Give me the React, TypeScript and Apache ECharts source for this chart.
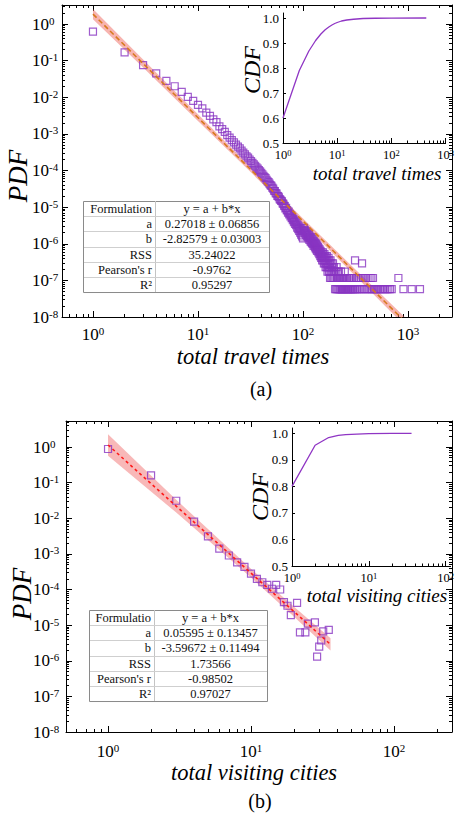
import React, { useEffect, useRef } from 'react';
import * as echarts from 'echarts';

const FONT = '"Liberation Serif", "Times New Roman", serif';

// ---------- Panel (a): total travel times ----------
// PDF at x = 1..100
const travelHeadPdf = [
  0.62, 0.168, 0.076, 0.045, 0.028, 0.020, 0.014, 0.0103, 0.0080, 0.0062,
  0.0050, 0.0038, 0.0031, 0.0025, 0.0021, 0.0016, 0.00135, 0.00114, 0.00093, 0.00079,
  6.8e-4, 5.9e-4, 5.1e-4, 4.5e-4, 4.0e-4, 3.5e-4, 3.1e-4, 2.75e-4, 2.45e-4, 2.24e-4,
  2.0e-4, 1.82e-4, 1.62e-4, 1.48e-4, 1.35e-4, 1.23e-4, 1.12e-4, 1.02e-4, 9.5e-5, 8.7e-5,
  7.9e-5, 7.2e-5, 6.6e-5, 6.2e-5, 5.6e-5, 5.1e-5, 4.8e-5, 4.4e-5, 4.0e-5, 3.8e-5,
  3.4e-5, 3.2e-5, 2.8e-5, 2.75e-5, 2.4e-5, 2.35e-5, 2.04e-5, 2.0e-5, 1.86e-5, 1.66e-5,
  1.58e-5, 1.48e-5, 1.45e-5, 1.26e-5, 1.23e-5, 1.10e-5, 1.07e-5, 9.3e-6, 9.5e-6, 8.3e-6,
  8.1e-6, 7.1e-6, 7.6e-6, 6.3e-6, 6.6e-6, 5.6e-6, 6.0e-6, 5.0e-6, 5.2e-6, 4.4e-6,
  4.8e-6, 3.9e-6, 4.3e-6, 3.5e-6, 4.0e-6, 3.2e-6, 3.6e-6, 2.75e-6, 3.3e-6, 2.5e-6,
  3.0e-6, 2.24e-6, 2.7e-6, 2.0e-6, 2.6e-6, 1.78e-6, 2.4e-6, 1.58e-6, 2.2e-6, 1.41e-6,
];
// [x, PDF] for x > 100
const travelTail: [number, number][] = [
  [101, 2.3e-6], [102, 2.7e-6], [103, 2.0e-6], [104, 2.4e-6], [105, 1.91e-6], [106, 2.2e-6],
  [107, 1.74e-6], [108, 2.1e-6], [109, 1.62e-6], [110, 1.91e-6], [111, 1.51e-6], [112, 1.74e-6],
  [113, 1.39e-6], [114, 1.8e-6], [115, 1.28e-6], [116, 1.57e-6], [117, 1.45e-6], [118, 1.16e-6],
  [119, 1.51e-6], [120, 1.1e-6], [121, 1.33e-6], [122, 1.04e-6], [123, 1.39e-6], [124, 9.9e-7],
  [125, 1.22e-6], [126, 8.7e-7], [127, 1.16e-6], [128, 9.3e-7], [129, 1.1e-6], [130, 8.1e-7],
  [131, 1.04e-6], [132, 7.5e-7], [133, 9.9e-7], [134, 7.0e-7], [135, 9.3e-7], [136, 6.4e-7],
  [137, 8.7e-7], [138, 7.0e-7], [139, 8.1e-7], [140, 5.8e-7], [141, 7.5e-7], [142, 6.4e-7],
  [143, 5.2e-7], [144, 7.0e-7], [145, 5.8e-7], [146, 4.6e-7], [147, 6.4e-7], [148, 5.2e-7],
  [149, 4.1e-7], [150, 5.8e-7], [151, 4.6e-7], [152, 3.5e-7], [153, 5.2e-7], [154, 4.1e-7],
  [155, 5.8e-7], [156, 3.5e-7], [157, 4.6e-7], [158, 2.9e-7], [159, 4.1e-7], [160, 5.2e-7],
  [161, 2.9e-7], [162, 3.5e-7], [163, 4.6e-7], [164, 2.3e-7], [165, 4.1e-7], [166, 2.9e-7],
  [167, 3.5e-7], [168, 2.3e-7], [169, 4.6e-7], [170, 2.9e-7], [171, 1.74e-7], [172, 3.5e-7],
  [173, 2.3e-7], [174, 2.9e-7], [175, 4.1e-7], [176, 1.74e-7], [177, 2.3e-7], [178, 3.5e-7],
  [179, 1.74e-7], [180, 2.9e-7], [181, 1.16e-7], [182, 2.3e-7], [183, 3.5e-7], [184, 1.74e-7],
  [186, 1.16e-7], [187, 2.9e-7], [188, 1.74e-7], [189, 2.3e-7], [191, 1.16e-7], [192, 1.74e-7],
  [193, 2.9e-7], [195, 1.16e-7], [196, 1.74e-7], [197, 2.3e-7], [199, 1.16e-7], [200, 1.74e-7],
  [202, 5.8e-8], [204, 1.16e-7], [205, 1.74e-7], [207, 5.8e-8], [209, 2.3e-7], [210, 1.16e-7],
  [212, 5.8e-8], [214, 1.74e-7], [215, 1.16e-7], [217, 5.8e-8], [219, 1.16e-7], [220, 1.74e-7],
  [222, 5.8e-8], [224, 1.16e-7], [226, 5.8e-8], [228, 1.16e-7], [230, 1.74e-7], [231, 5.8e-8],
  [234, 1.16e-7], [236, 5.8e-8], [238, 5.8e-8], [240, 1.16e-7], [242, 5.8e-8], [245, 1.16e-7],
  [247, 5.8e-8], [250, 1.74e-7], [252, 5.8e-8], [255, 1.16e-7], [257, 5.8e-8], [260, 1.16e-7],
  [263, 5.8e-8], [266, 1.16e-7], [268, 5.8e-8], [272, 5.8e-8], [275, 1.16e-7], [278, 5.8e-8],
  [282, 1.16e-7], [285, 5.8e-8], [289, 5.8e-8], [292, 1.16e-7], [296, 5.8e-8], [300, 5.8e-8],
  [305, 1.16e-7], [310, 5.8e-8], [313, 3.5e-7], [315, 5.8e-8], [320, 1.16e-7], [326, 5.8e-8],
  [332, 1.16e-7], [338, 5.8e-8], [345, 1.16e-7], [352, 5.8e-8], [360, 1.16e-7], [365, 2.9e-7],
  [368, 5.8e-8], [376, 1.16e-7], [385, 5.8e-8], [394, 1.16e-7], [403, 5.8e-8], [412, 1.16e-7],
  [420, 5.8e-8], [430, 1.16e-7], [440, 5.8e-8], [448, 1.16e-7], [455, 5.8e-8], [464, 1.16e-7],
  [475, 5.8e-8], [490, 5.8e-8], [505, 5.8e-8], [520, 5.8e-8], [540, 5.8e-8], [560, 5.8e-8],
  [580, 5.8e-8], [600, 5.8e-8], [625, 5.8e-8], [650, 5.8e-8], [675, 5.8e-8], [700, 5.8e-8],
  [810, 1.16e-7], [905, 5.8e-8], [1085, 5.8e-8], [1300, 5.8e-8],
];
const travelCdf: [number, number][] = [
  [1, 0.6], [2, 0.79], [3, 0.868], [4, 0.91], [5, 0.936], [6, 0.953], [7, 0.964], [8, 0.972],
  [9, 0.978], [10, 0.982], [12, 0.988], [15, 0.992], [20, 0.995], [30, 0.998], [50, 0.999],
  [100, 0.9997], [440, 1.0],
];
const travelFit = { a: 0.27018, b: -2.82579, xStart: 1, xEnd: 1000 };
// [x, half width of the shaded band in decades]
const travelBand: [number, number][] = [[1, 0.14], [3, 0.11], [10, 0.09], [30, 0.07], [100, 0.07], [300, 0.09], [1000, 0.12]];
const travelTable: [string, string][] = [
  ['Formulation', 'y = a + b*x'],
  ['a', '0.27018 ± 0.06856'],
  ['b', '-2.82579 ± 0.03003'],
  ['RSS', '35.24022'],
  ["Pearson's r", '-0.9762'],
  ['R²', '0.95297'],
];

// ---------- Panel (b): total visiting cities ----------
const citiesPdf: [number, number][] = [
  [1, 0.88], [2, 0.16], [3, 0.031], [4, 0.008], [5, 0.0031], [6, 0.0014], [7, 0.0009],
  [8, 0.00058], [9, 0.00043], [10, 0.00028], [11, 0.0002], [12, 0.00016], [13, 0.000135],
  [14, 0.000105], [15, 0.000135], [16, 0.0001], [17, 4.4e-5], [18, 3.5e-5], [19, 1.9e-5],
  [21, 4.2e-5], [22, 6.3e-6], [24, 6.3e-6], [25, 1.1e-5], [28, 1.2e-5], [29, 1.3e-6],
  [30, 2.5e-6], [31, 3.7e-6], [32, 6.7e-6], [35, 7.4e-6],
];
const citiesCdf: [number, number][] = [
  [1, 0.8], [2, 0.955], [3, 0.984], [4, 0.992], [5, 0.995], [7, 0.997], [10, 0.999], [20, 0.9995], [36, 1.0],
];
const citiesFit = { a: 0.05595, b: -3.59672, xStart: 1, xEnd: 36 };
const citiesBand: [number, number][] = [[1, 0.3], [3, 0.18], [10, 0.12], [20, 0.14], [36, 0.17]];
const citiesTable: [string, string][] = [
  ['Formulatio', 'y = a + b*x'],
  ['a', '0.05595 ± 0.13457'],
  ['b', '-3.59672 ± 0.11494'],
  ['RSS', '1.73566'],
  ["Pearson's r", '-0.98502'],
  ['R²', '0.97027'],
];

const L = Math.log10;

function majorsIn(min: number, max: number) {
  const out: number[] = [];
  for (let n = Math.ceil(min - 1e-9); n <= max + 1e-9; n++) out.push(n);
  return out;
}
function minorsIn(min: number, max: number) {
  const out: number[] = [];
  for (let n = Math.floor(min); n <= Math.ceil(max); n++) {
    for (let k = 2; k <= 9; k++) {
      const v = n + L(k);
      if (v > min + 1e-6 && v < max - 1e-6) out.push(v);
    }
  }
  return out;
}

const mainRich = {
  b: { fontSize: 17, fontFamily: FONT, color: '#000', lineHeight: 18 },
  s: { fontSize: 11, fontFamily: FONT, color: '#000', lineHeight: 9, verticalAlign: 'top' },
};
const insetRich = {
  b: { fontSize: 12.5, fontFamily: FONT, color: '#000', lineHeight: 14 },
  s: { fontSize: 8.5, fontFamily: FONT, color: '#000', lineHeight: 7, verticalAlign: 'top' },
};
const pow = (v: number) => `{b|10}{s|${Math.round(v)}}`;

const black = { color: '#000', width: 1 };

function frameX(gridIndex: number, min: number, max: number, margin: number) {
  const M = majorsIn(min, max);
  const m = minorsIn(min, max);
  const c = { type: 'value', gridIndex, min, max, splitLine: { show: false } };
  return [
    { ...c, position: 'bottom', axisLine: { show: true, onZero: false, lineStyle: black },
      axisTick: { show: true, inside: true, length: 6, customValues: M, lineStyle: black },
      axisLabel: { show: true, customValues: M, formatter: pow, rich: mainRich, margin } },
    { ...c, position: 'bottom', axisLine: { show: false, onZero: false },
      axisTick: { show: true, inside: true, length: 3, customValues: m, lineStyle: black }, axisLabel: { show: false } },
    { ...c, position: 'top', axisLine: { show: true, onZero: false, lineStyle: black },
      axisTick: { show: true, inside: true, length: 6, customValues: M, lineStyle: black }, axisLabel: { show: false } },
    { ...c, position: 'top', axisLine: { show: false, onZero: false },
      axisTick: { show: true, inside: true, length: 3, customValues: m, lineStyle: black }, axisLabel: { show: false } },
  ];
}
function frameY(gridIndex: number, min: number, max: number, margin: number) {
  const M = majorsIn(min, max);
  const m = minorsIn(min, max);
  const c = { type: 'value', gridIndex, min, max, splitLine: { show: false } };
  return [
    { ...c, position: 'left', axisLine: { show: true, onZero: false, lineStyle: black },
      axisTick: { show: true, inside: true, length: 6, customValues: M, lineStyle: black },
      axisLabel: { show: true, customValues: M, formatter: pow, rich: mainRich, margin, align: 'left' } },
    { ...c, position: 'left', axisLine: { show: false, onZero: false },
      axisTick: { show: true, inside: true, length: 3, customValues: m, lineStyle: black }, axisLabel: { show: false } },
    { ...c, position: 'right', axisLine: { show: true, onZero: false, lineStyle: black },
      axisTick: { show: true, inside: true, length: 6, customValues: M, lineStyle: black }, axisLabel: { show: false } },
    { ...c, position: 'right', axisLine: { show: false, onZero: false },
      axisTick: { show: true, inside: true, length: 3, customValues: m, lineStyle: black }, axisLabel: { show: false } },
  ];
}
function insetX(gridIndex: number, min: number, max: number) {
  const M = majorsIn(min, max);
  const m = minorsIn(min, max);
  const c = { type: 'value', gridIndex, min, max, splitLine: { show: false } };
  return [
    { ...c, position: 'bottom', axisLine: { show: true, onZero: false, lineStyle: black },
      axisTick: { show: true, inside: true, length: 5, customValues: M, lineStyle: black },
      axisLabel: { show: true, customValues: M, formatter: pow, rich: insetRich, margin: 5 } },
    { ...c, position: 'bottom', axisLine: { show: false, onZero: false },
      axisTick: { show: true, inside: true, length: 2.5, customValues: m, lineStyle: black }, axisLabel: { show: false } },
  ];
}
const cdfTicks = [0.5, 0.6, 0.7, 0.8, 0.9, 1.0];
function insetY(gridIndex: number) {
  return {
    type: 'value', gridIndex, min: 0.5, max: 1.02, position: 'left', splitLine: { show: false },
    axisLine: { show: true, onZero: false, lineStyle: black },
    axisTick: { show: true, inside: true, length: 3, customValues: cdfTicks, lineStyle: black },
    axisLabel: { show: true, customValues: cdfTicks, formatter: (v: number) => v.toFixed(1),
      fontSize: 13, lineHeight: 9, fontFamily: FONT, color: '#000', margin: 4 },
  };
}

function bandSeries(xi: number, yi: number, fit: { a: number; b: number }, band: [number, number][], fill: string, opacity: number) {
  return {
    type: 'custom', xAxisIndex: xi, yAxisIndex: yi, clip: true, silent: true,
    data: [[L(band[0][0]), fit.a]],
    renderItem: (params: any, api: any) => {
      const up = band.map(([x, h]) => api.coord([L(x), fit.a + fit.b * L(x) + h]));
      const lo = band.map(([x, h]) => api.coord([L(x), fit.a + fit.b * L(x) - h])).reverse();
      return { type: 'polygon', shape: { points: up.concat(lo) }, style: { fill, opacity } };
    },
  };
}
function fitSeries(xi: number, yi: number, fit: any, color: string, dash: number[]) {
  return {
    type: 'line', xAxisIndex: xi, yAxisIndex: yi, symbol: 'none', silent: true, clip: true,
    data: [fit.xStart, fit.xEnd].map((x: number) => [L(x), fit.a + fit.b * L(x)]),
    lineStyle: { color, width: 1.6, type: dash },
  };
}
const scatterStyle = { color: 'rgba(0,0,0,0)', borderColor: '#8834c2', borderWidth: 1.2 };

function table(left: number, top: number, width: number, divider: number, rows: [string, string][]) {
  const rowH = 15.17;
  const h = rowH * rows.length;
  const els: any[] = [
    { type: 'rect', z: 100, shape: { x: left + 0.5, y: top + 0.5, width, height: h }, style: { fill: '#fff', stroke: '#8a8a8a', lineWidth: 1 } },
    { type: 'line', z: 101, shape: { x1: divider + 0.5, y1: top, x2: divider + 0.5, y2: top + h }, style: { stroke: '#c4c4c4', lineWidth: 1 } },
  ];
  for (let i = 1; i < rows.length; i++) {
    const y = Math.round(top + rowH * i) + 0.5;
    els.push({ type: 'line', z: 101, shape: { x1: left + 1, y1: y, x2: left + width, y2: y }, style: { stroke: '#cfcfcf', lineWidth: 1 } });
  }
  const rightC = (divider + left + width) / 2;
  rows.forEach(([k, v], i) => {
    const cy = top + rowH * (i + 0.5) + 0.5;
    els.push({ type: 'text', z: 102, x: divider - 3, y: cy,
      style: { text: k, fontSize: 12.5, fontFamily: FONT, fill: '#111', align: 'right', verticalAlign: 'middle', textAlign: 'right', textVerticalAlign: 'middle' } });
    els.push({ type: 'text', z: 102, x: rightC, y: cy,
      style: { text: v, fontSize: 12.5, fontFamily: FONT, fill: '#111', align: 'center', verticalAlign: 'middle', textAlign: 'center', textVerticalAlign: 'middle' } });
  });
  return els;
}
function label(text: string, x: number, y: number, size: number, italic: boolean, rotate = false) {
  return {
    type: 'text', z: 100, x, y, rotation: rotate ? Math.PI / 2 : 0,
    style: { text, fontSize: size, fontFamily: FONT, fontStyle: italic ? 'italic' : 'normal', fill: '#000',
      align: 'center', verticalAlign: 'middle', textAlign: 'center', textVerticalAlign: 'middle' },
  };
}

function buildOption() {
  const ax = { xmin: -0.295, xmax: 3.419, ymin: -8, ymax: 0.52 };
  const bx = { xmin: -0.294, xmax: 2.406, ymin: -8, ymax: 0.73 };
  const travelPoints = travelHeadPdf.map((p, i) => [L(i + 1), L(p)]).concat(travelTail.map(([x, p]) => [L(x), L(p)]));
  const citiesPoints = citiesPdf.map(([x, p]) => [L(x), L(p)]);

  return {
    animation: false,
    backgroundColor: '#fff',
    textStyle: { fontFamily: FONT, color: '#000' },
    grid: [
      { left: 62, top: 5, width: 390, height: 312 },
      { left: 283, top: 13, width: 166.5, height: 130 },
      { left: 66, top: 421, width: 386, height: 311 },
      { left: 292, top: 428, width: 160, height: 138 },
    ],
    xAxis: [
      ...frameX(0, ax.xmin, ax.xmax, 8),
      ...insetX(1, 0, 3),
      ...frameX(2, bx.xmin, bx.xmax, 10),
      ...insetX(3, 0, 2.065),
    ],
    yAxis: [
      ...frameY(0, ax.ymin, ax.ymax, 30),
      insetY(1),
      ...frameY(2, bx.ymin, bx.ymax, 33),
      insetY(3),
    ],
    series: [
      { type: 'scatter', xAxisIndex: 0, yAxisIndex: 0, symbol: 'rect', symbolSize: 7, data: travelPoints, itemStyle: scatterStyle, silent: true },
      bandSeries(0, 0, travelFit, travelBand, '#ef6a62', 0.5),
      fitSeries(0, 0, travelFit, '#d77a1e', [5, 3]),
      { type: 'line', xAxisIndex: 4, yAxisIndex: 4, symbol: 'none', silent: true,
        data: travelCdf.map(([x, v]) => [L(x), v]), lineStyle: { color: '#8f35c4', width: 1.3 } },
      { type: 'scatter', xAxisIndex: 6, yAxisIndex: 5, symbol: 'rect', symbolSize: 7, data: citiesPoints, itemStyle: scatterStyle, silent: true },
      bandSeries(6, 5, citiesFit, citiesBand, '#f06262', 0.45),
      fitSeries(6, 5, citiesFit, '#ff1a1a', [3, 3]),
      { type: 'line', xAxisIndex: 10, yAxisIndex: 9, symbol: 'none', silent: true,
        data: citiesCdf.map(([x, v]) => [L(x), v]), lineStyle: { color: '#8f35c4', width: 1.3 } },
    ],
    graphic: {
      elements: [
        ...table(83, 201, 186, 155, travelTable),
        ...table(89, 610, 178, 154, citiesTable),
        label('PDF', 18, 176, 27, true, true),
        label('total travel times', 253, 356, 22.5, true),
        label('(a)', 261, 389, 20, false),
        label('CDF', 252, 70, 24, true, true),
        label('total travel times', 377, 173, 19, true),
        label('PDF', 22, 594, 27, true, true),
        label('total visiting cities', 254, 772, 22.5, true),
        label('(b)', 260, 801, 20, false),
        label('CDF', 260, 497, 24, true, true),
        label('total visiting cities', 377, 595, 19, true),
      ],
    },
  };
}

export default function App() {
  const ref = useRef<HTMLDivElement>(null);
  useEffect(() => {
    const chart = echarts.init(ref.current as HTMLDivElement, null, { renderer: 'svg' });
    chart.setOption(buildOption() as any);
    return () => chart.dispose();
  }, []);
  return <div ref={ref} style={{ position: 'absolute', left: 0, top: 0, width: 457, height: 817, background: '#fff' }} />;
}
